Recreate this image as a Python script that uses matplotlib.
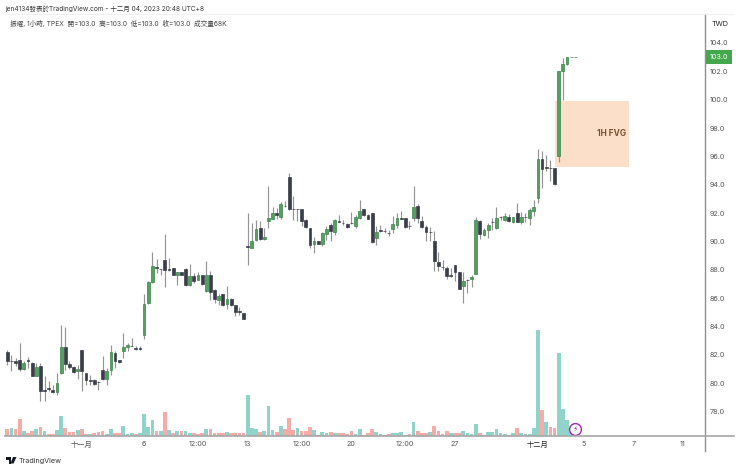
import numpy as np
import matplotlib
matplotlib.use("Agg")
import matplotlib.pyplot as plt
from matplotlib.lines import Line2D
from matplotlib.patches import Polygon, Rectangle

plt.rcParams['font.family'] = ['Inter', 'Noto Sans CJK TC', 'DejaVu Sans']

# candles, hourly
opens = [82.21,81.57,81.55,81.64,81.03,81.64,81.43,80.54,81.25,79.5,79.67,79.55,79.35,80.73,82.56,81.36,81.13,80.87,82.32,80.73,
         80.26,80.21,80.12,80.94,80.33,80.92,82.14,81.62,82.25,82.56,82.66,82.52,82.52,83.43,85.66,87.14,88.22,88.06,88.71,88.06,
         88.13,87.63,87.82,88.06,86.93,87.54,87.3,87.61,86.51,87.63,86.55,85.9,86.27,85.61,85.94,85.52,85.06,84.93,
         89.65,89.55,90.07,90.94,90.14,91.41,91.6,92.04,91.71,92.53,94.53,92.28,92.28,92.3,91.52,90.94,89.84,90.0,89.84,90.54,91.13,90.66,
         91.41,91.29,91.22,91.29,91.1,91.62,92.3,91.88,92.02,90.21,90.78,90.73,90.59,90.91,91.13,91.62,91.62,91.1,91.62,92.53,
         91.43,91.02,90.66,90.03,88.53,88.2,88.15,87.6,88.32,87.85,86.84,87.31,87.33,87.73,91.42,90.43,90.83,91.35,90.92,91.7,
         91.53,91.72,91.35,92.03,91.35,91.75,91.63,92.12,93.06,95.83,95.22,95.18,95.18,96.04,102.03,102.52,103.0,103.0]
closes = [81.55,81.55,81.41,81.0,81.43,81.55,80.54,81.13,79.44,79.44,79.62,79.35,80.05,82.56,81.36,81.15,80.82,81.03,80.85,80.26,
          80.19,79.95,80.1,80.33,80.85,82.23,81.6,81.48,82.54,82.72,82.65,82.44,82.44,85.61,87.14,88.24,88.15,88.05,87.96,88.01,
          87.66,87.85,87.66,86.91,87.54,87.23,87.63,87.02,87.61,86.41,85.94,86.13,85.54,85.92,85.52,85.05,85.05,84.56,
          89.63,90.02,90.91,90.19,90.33,91.64,91.99,91.83,92.63,92.49,92.3,92.27,92.27,91.45,91.01,89.72,90.0,89.84,90.59,90.91,90.73,91.5,
          91.39,91.27,91.01,91.27,91.71,92.18,91.83,91.6,89.95,90.7,90.77,90.72,90.58,91.22,91.62,91.6,91.01,91.09,92.42,91.64,
          91.01,90.66,90.65,88.65,88.25,88.18,87.54,87.58,87.85,86.65,87.21,87.3,87.52,91.53,90.55,90.83,91.13,91.34,91.65,91.69,
          91.82,91.42,91.72,91.35,91.72,91.74,92.24,92.43,95.83,95.13,95.2,95.16,94.05,102.0,102.5,103.0,103.0,103.0]
highs = [82.32,82.02,81.78,82.84,81.55,81.85,81.5,81.43,81.43,80.5,80.14,79.9,80.73,84.13,84.0,81.55,81.25,81.3,82.32,80.73,
         80.6,80.3,80.14,81.95,81.08,82.72,82.25,81.64,83.55,82.84,83.2,82.66,82.6,86.32,87.2,89.23,88.76,88.06,90.54,88.83,
         88.13,87.85,87.85,88.1,88.43,87.77,87.82,87.66,88.62,87.89,86.65,86.32,86.32,86.84,85.99,85.54,85.38,84.96,
         92.04,91.29,91.52,91.45,90.94,93.92,92.46,92.35,92.75,92.82,94.81,93.2,92.28,92.3,91.55,90.94,90.3,90.02,90.7,91.06,91.29,91.57,
         91.88,91.52,91.29,92.11,91.88,92.93,92.3,91.9,92.04,91.1,91.17,90.94,90.82,91.8,91.99,92.18,91.62,91.41,93.92,92.65,
         91.76,91.18,90.99,90.71,89.23,88.72,88.29,88.13,88.32,87.85,87.82,87.35,87.66,91.7,91.48,90.95,91.3,91.65,92.43,91.82,
         92.0,91.96,91.72,92.71,92.05,92.0,92.33,92.94,96.53,96.39,96.11,95.71,95.18,102.0,102.92,103.04,103.0,103.0]
lows = [81.3,80.87,81.25,80.85,80.96,81.08,80.54,80.5,78.73,78.73,79.44,79.32,79.2,80.68,80.96,81.01,80.73,80.3,79.44,79.9,
        79.9,79.9,79.55,80.26,79.9,80.61,81.08,81.45,81.78,82.25,82.6,82.37,82.37,83.15,85.6,87.07,87.77,87.66,86.79,87.89,
        87.61,86.95,87.61,86.86,86.88,87.07,87.26,86.95,86.46,85.85,85.66,85.54,85.47,85.24,85.47,84.77,84.84,84.54,
        88.36,89.51,90.0,90.12,90.12,90.94,91.57,91.57,91.57,92.46,92.23,91.52,91.45,91.1,90.94,89.53,89.18,89.8,89.7,90.12,90.05,90.47,
        91.36,91.17,90.94,91.22,90.98,91.57,91.8,91.55,89.9,89.77,90.7,90.59,90.35,90.63,90.98,91.57,90.98,90.87,91.41,91.29,
        90.94,90.05,90.05,87.9,87.9,88.01,87.35,87.5,87.19,86.62,85.66,86.37,86.77,87.68,90.17,90.36,90.24,90.83,90.9,91.53,
        91.42,91.35,91.33,91.35,91.25,91.35,91.18,91.81,92.71,93.76,94.94,94.23,94.0,95.57,99.94,102.45,103.0,103.0]

# volume in thousands, u = up bar, d = down bar
volumes = [400,440,420,1020,280,180,260,400,520,260,100,120,320,1200,480,200,240,360,400,120,
           100,180,240,280,120,400,160,140,560,120,180,80,160,1280,540,960,300,300,1420,320,
           160,300,300,300,160,140,100,180,400,400,140,140,160,240,160,160,160,160,
           2440,480,420,240,300,1780,320,240,580,420,1060,340,460,280,300,500,340,40,200,180,220,140,
           140,160,80,300,100,400,60,160,420,200,80,60,80,160,160,200,60,100,800,260,
           160,160,200,580,280,100,260,180,180,140,280,160,80,700,160,40,200,200,400,180,
           80,60,160,460,140,120,120,460,6360,1540,820,540,460,4980,1580,920,200,68]
vol_dirs = ['d','u','d','d','u','d','d','u','d','u','d','d','u','u','d','d','d','u','d','d',
            'u','d','d','d','u','u','d','d','u','u','u','d','u','u','u','u','d','u','d','u',
            'd','u','d','u','u','d','d','d','u','d','d','d','d','u','d','d','d','d',
            'u','u','u','d','u','u','u','d','u','d','d','d','u','d','d','d','u','d','u','u','d','u',
            'd','d','d','d','u','u','d','d','d','u','u','d','d','u','u','u','d','d','u','d',
            'd','d','u','d','d','d','d','u','d','d','u','u','u','u','d','u','u','u','u','u',
            'u','d','u','d','u','u','u','u','u','d','u','d','d','u','u','u','u','u']

price_ticks = [78, 80, 82, 84, 86, 88, 90, 92, 94, 96, 98, 100, 102, 104]
time_ticks = [18, 33, 46, 58, 71, 83, 96, 108, 128, 139, 151, 163]
time_labels = ['十一月', '6', '12:00', '13', '12:00', '20', '12:00', '27', '十二月', '5', '7', '11']
fvg_low, fvg_high = 95.24, 99.92
fvg_start, fvg_end = 132.1, 149.9
last_price = 103.0

GREEN = '#559f63'
GREEN_EDGE = '#3a8549'
BLACK = '#3a3e49'
TEAL = '#8fd3cb'
RED = '#f6aba7'
GREY = '#949494'


def fx(x):
    return x / 740


def fy(y):
    return 1 - y / 470


opens = np.array(opens)
closes = np.array(closes)
highs = np.array(highs)
lows = np.array(lows)
volumes = np.array(volumes)
idx = np.arange(len(opens))

fig = plt.figure(figsize=(7.4, 4.7), dpi=100, facecolor='white')
ax = fig.add_axes([fx(5), fy(435.7), fx(705) - fx(5), fy(14) - fy(435.7)])
ax2 = ax.twinx()
ax.set_zorder(ax2.get_zorder() + 1)
ax.patch.set_visible(False)

# volume
vol_colors = [TEAL if d == 'u' else RED for d in vol_dirs]
ax2.bar(idx, volumes, width=0.9, color=vol_colors, linewidth=0)
ax2.set_ylim(0, 25300)
ax2.set_yticks([])
ax2.plot([136.9], [400], marker='o', ms=8.5, mfc='white', mec='#9c27b0', mew=1, zorder=5)
ax2.text(136.9, 400, '\u26a1', color='#9c27b0', fontsize=5.5, ha='center', va='center',
         family='DejaVu Sans', zorder=6)

# FVG box
ax.add_patch(Rectangle((fvg_start, fvg_low), fvg_end - fvg_start, fvg_high - fvg_low,
                       facecolor='#fbdfc8', edgecolor='none', zorder=1))
ax.text(fvg_end - 0.6, 97.63, '1H FVG', color='#7a5230', fontsize=6, fontweight='bold',
        ha='right', va='center', zorder=4)

# candles
up = closes >= opens
ax.vlines(idx, lows, highs, color=GREY, lw=0.85, zorder=2)
bottoms = np.minimum(opens, closes)
heights = np.abs(closes - opens)
ax.bar(idx, heights, bottom=bottoms, width=0.68, zorder=3, linewidth=0.5,
       color=[GREEN if u else BLACK for u in up],
       edgecolor=[GREEN_EDGE if u else BLACK for u in up])

ax.set_xlim(-0.55, 168.3)
ax.set_ylim(76.3, 106.04)
ax.yaxis.tick_right()
ax.set_yticks(price_ticks)
ax.set_yticklabels([f'{p:.1f}' for p in price_ticks])
ax.set_xticks(time_ticks)
ax.set_xticklabels(time_labels)
ax.tick_params(axis='both', length=0, labelsize=5.2, labelcolor='#555555')
ax.tick_params(axis='y', pad=3.6)
ax.tick_params(axis='x', pad=3.5)
for lab, txt in zip(ax.get_xticklabels(), time_labels):
    if txt == '十二月':
        lab.set_color('#222222')
for sp in list(ax.spines.values()) + list(ax2.spines.values()):
    sp.set_visible(False)

ax.text(1.0 + 5 / 700, last_price, f'{last_price:.1f}', transform=ax.get_yaxis_transform(), color='white',
        fontsize=5.2, ha='left', va='center', zorder=6, clip_on=False,
        bbox=dict(boxstyle='square,pad=0.5', fc='#43a84c', ec='none'))

# frame lines
fig.add_artist(Line2D([fx(705.3), fx(705.3)], [fy(14), fy(451)], color='#8f8f8f', lw=1))
fig.add_artist(Line2D([fx(5), fx(734)], [fy(435.7), fy(435.7)], color='#a6a6a6', lw=1.2))
fig.add_artist(Line2D([fx(5), fx(734)], [fy(13.5), fy(13.5)], color='#f0f0f0', lw=0.7))

# header and footer
fig.text(fx(5), fy(8.5), 'jen4134發表於TradingView.com - 十二月 04, 2023 20:48 UTC+8', fontsize=4.7,
         color='#333333', va='center')
fig.text(fx(10), fy(23), '振曜, 1小時, TPEX  開=103.0  高=103.0  低=103.0  收=103.0  成交量68K',
         fontsize=4.8, color='#444444', va='center')
fig.text(fx(720), fy(23.5), 'TWD', fontsize=5.2, color='#222222', va='center', ha='center')
fig.text(fx(18.5), fy(460.5), 'TradingView', fontsize=5.2, color='#333333', va='center')

# TradingView logo
fig.add_artist(Polygon([(fx(x), fy(y)) for x, y in [(6, 457), (11, 457), (11, 463.5), (8.5, 463.5), (8.5, 459.5), (6, 459.5)]],
                       closed=True, fc='#131722', ec='none', transform=fig.transFigure))
fig.add_artist(Polygon([(fx(x), fy(y)) for x, y in [(13, 457), (16.5, 457), (13.5, 463.5), (10.5, 463.5)]],
                       closed=True, fc='#131722', ec='none', transform=fig.transFigure))

fig.savefig('out.png', dpi=100)
